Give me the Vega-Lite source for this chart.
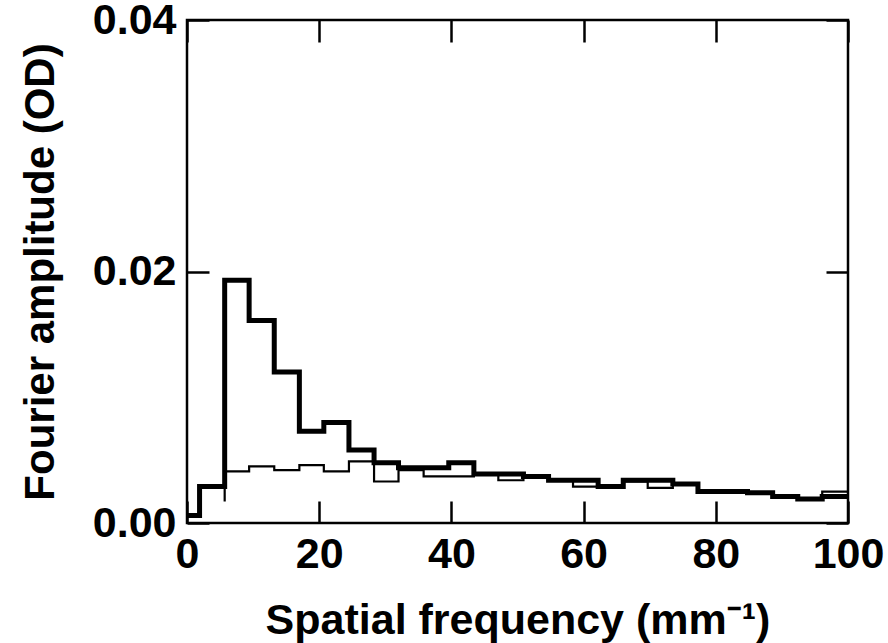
{
  "$schema": "https://vega.github.io/schema/vega-lite/v6.json",
  "width": 661,
  "height": 503,
  "autosize": "none",
  "padding": {"left": 187, "top": 20, "right": 40, "bottom": 120},
  "background": "white",
  "config": {
    "view": {"stroke": "black", "strokeWidth": 2.5},
    "font": "Liberation Sans",
    "axis": {
      "domain": false,
      "grid": false,
      "ticks": true,
      "tickSize": -22,
      "tickWidth": 2.5,
      "tickColor": "black",
      "labelFont": "Liberation Sans",
      "labelFontSize": 43,
      "labelFontWeight": "bold",
      "labelColor": "black",
      "titleFont": "Liberation Sans",
      "titleFontSize": 42,
      "titleFontWeight": "bold",
      "titleColor": "black"
    }
  },
  "data": {
    "values": [
      {"s": "thick", "i": 0, "x": 0, "y": 0.0006},
      {"s": "thick", "i": 1, "x": 1.9, "y": 0.0029},
      {"s": "thick", "i": 2, "x": 5.7, "y": 0.0193},
      {"s": "thick", "i": 3, "x": 9.4, "y": 0.0161},
      {"s": "thick", "i": 4, "x": 13.2, "y": 0.0120},
      {"s": "thick", "i": 5, "x": 17.0, "y": 0.0073},
      {"s": "thick", "i": 6, "x": 20.7, "y": 0.0080},
      {"s": "thick", "i": 7, "x": 24.5, "y": 0.0058},
      {"s": "thick", "i": 8, "x": 28.3, "y": 0.0048},
      {"s": "thick", "i": 9, "x": 32.0, "y": 0.0044},
      {"s": "thick", "i": 10, "x": 35.8, "y": 0.0044},
      {"s": "thick", "i": 11, "x": 39.6, "y": 0.0048},
      {"s": "thick", "i": 12, "x": 43.4, "y": 0.0039},
      {"s": "thick", "i": 13, "x": 47.1, "y": 0.0039},
      {"s": "thick", "i": 14, "x": 50.9, "y": 0.0037},
      {"s": "thick", "i": 15, "x": 54.7, "y": 0.0034},
      {"s": "thick", "i": 16, "x": 58.4, "y": 0.0034},
      {"s": "thick", "i": 17, "x": 62.2, "y": 0.0029},
      {"s": "thick", "i": 18, "x": 66.0, "y": 0.0034},
      {"s": "thick", "i": 19, "x": 69.7, "y": 0.0034},
      {"s": "thick", "i": 20, "x": 73.5, "y": 0.0031},
      {"s": "thick", "i": 21, "x": 77.3, "y": 0.0025},
      {"s": "thick", "i": 22, "x": 81.1, "y": 0.0025},
      {"s": "thick", "i": 23, "x": 84.8, "y": 0.0024},
      {"s": "thick", "i": 24, "x": 88.6, "y": 0.0021},
      {"s": "thick", "i": 25, "x": 92.4, "y": 0.0019},
      {"s": "thick", "i": 26, "x": 96.1, "y": 0.0021},
      {"s": "thick", "i": 27, "x": 100, "y": 0.0021},
      {"s": "thin", "i": 0, "x": 5.7, "y": 0.0017},
      {"s": "thin", "i": 1, "x": 5.7, "y": 0.0041},
      {"s": "thin", "i": 2, "x": 9.4, "y": 0.0045},
      {"s": "thin", "i": 3, "x": 13.2, "y": 0.0042},
      {"s": "thin", "i": 4, "x": 17.0, "y": 0.0046},
      {"s": "thin", "i": 5, "x": 20.7, "y": 0.0041},
      {"s": "thin", "i": 6, "x": 24.5, "y": 0.0049},
      {"s": "thin", "i": 7, "x": 28.3, "y": 0.0033},
      {"s": "thin", "i": 8, "x": 32.0, "y": 0.0042},
      {"s": "thin", "i": 9, "x": 35.8, "y": 0.0037},
      {"s": "thin", "i": 10, "x": 39.6, "y": 0.0037},
      {"s": "thin", "i": 11, "x": 43.4, "y": 0.0039},
      {"s": "thin", "i": 12, "x": 47.1, "y": 0.0034},
      {"s": "thin", "i": 13, "x": 50.9, "y": 0.0037},
      {"s": "thin", "i": 14, "x": 54.7, "y": 0.0034},
      {"s": "thin", "i": 15, "x": 58.4, "y": 0.0029},
      {"s": "thin", "i": 16, "x": 62.2, "y": 0.0029},
      {"s": "thin", "i": 17, "x": 66.0, "y": 0.0033},
      {"s": "thin", "i": 18, "x": 69.7, "y": 0.0028},
      {"s": "thin", "i": 19, "x": 73.5, "y": 0.0031},
      {"s": "thin", "i": 20, "x": 77.3, "y": 0.0025},
      {"s": "thin", "i": 21, "x": 81.1, "y": 0.0025},
      {"s": "thin", "i": 22, "x": 84.8, "y": 0.0024},
      {"s": "thin", "i": 23, "x": 88.6, "y": 0.0021},
      {"s": "thin", "i": 24, "x": 92.4, "y": 0.0019},
      {"s": "thin", "i": 25, "x": 96.1, "y": 0.0025},
      {"s": "thin", "i": 26, "x": 100, "y": 0.0025}
    ]
  },
  "layer": [
    {
      "transform": [{"filter": "datum.s == 'thin'"}],
      "mark": {"type": "line", "interpolate": "step-after", "color": "black", "strokeWidth": 2.2, "clip": true},
      "encoding": {
        "x": {
          "field": "x", "type": "quantitative",
          "scale": {"domain": [0, 100], "nice": false},
          "axis": {"orient": "bottom", "values": [0, 20, 40, 60, 80, 100], "labelFlush": false, "labelPadding": 32, "title": "Spatial frequency (mm⁻¹)", "titlePadding": 23, "titleFontSize": 43}
        },
        "y": {
          "field": "y", "type": "quantitative",
          "scale": {"domain": [0, 0.04], "nice": false},
          "axis": {"orient": "left", "values": [0, 0.02, 0.04], "format": ".2f", "labelPadding": 33, "title": "Fourier amplitude (OD)", "titlePadding": 30}
        },
        "order": {"field": "i", "type": "quantitative"}
      }
    },
    {
      "transform": [{"filter": "datum.s == 'thick'"}],
      "mark": {"type": "line", "interpolate": "step-after", "color": "black", "strokeWidth": 5, "strokeCap": "square", "clip": true},
      "encoding": {
        "x": {
          "field": "x", "type": "quantitative",
          "scale": {"domain": [0, 100], "nice": false},
          "axis": {"orient": "top", "values": [0, 20, 40, 60, 80, 100], "labels": false, "title": null}
        },
        "y": {
          "field": "y", "type": "quantitative",
          "scale": {"domain": [0, 0.04], "nice": false},
          "axis": {"orient": "right", "values": [0, 0.02, 0.04], "labels": false, "title": null}
        },
        "order": {"field": "i", "type": "quantitative"}
      }
    }
  ],
  "resolve": {"axis": {"x": "independent", "y": "independent"}}
}
